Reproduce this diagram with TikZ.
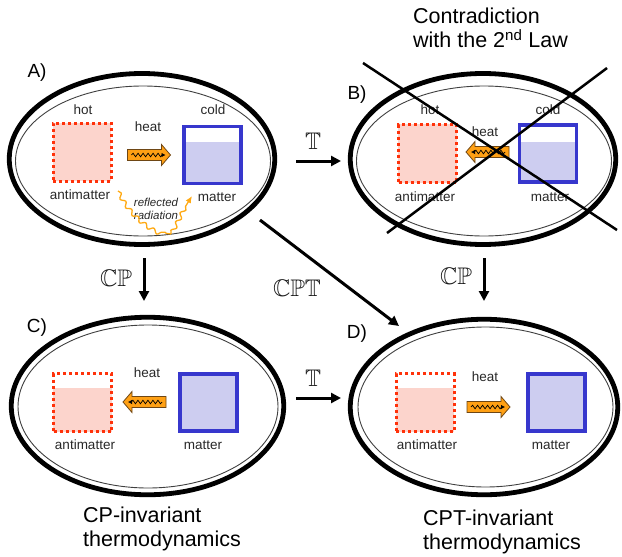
\documentclass[tikz,border=0pt]{standalone}
\usepackage{amssymb}
\usepackage{fontspec}
\setmainfont{Liberation Sans}
\usetikzlibrary{shapes.geometric,arrows.meta,decorations.pathmorphing}
\definecolor{amred}{RGB}{255,50,10}
\definecolor{amfill}{RGB}{252,212,204}
\definecolor{mblue}{RGB}{55,55,205}
\definecolor{mfill}{RGB}{205,205,240}
\definecolor{harrow}{RGB}{255,160,20}
\definecolor{hedge}{RGB}{110,70,20}
\definecolor{rad}{RGB}{255,170,20}
\definecolor{txt}{RGB}{40,40,40}
\begin{document}
\begin{tikzpicture}[x=1pt,y=-1pt,
 outerell/.style={ellipse, draw, line width=4.8pt, inner sep=0pt},
 innerell/.style={ellipse, draw=black!75, line width=0.9pt, inner sep=0pt},
 amsq/.style={draw=amred, line width=3pt, dash pattern=on 3pt off 3pt, minimum size=58pt, inner sep=0pt},
 msq/.style={draw=mblue, line width=3.5pt, minimum size=57pt, inner sep=0pt},
 lbl/.style={font=\fontsize{13.5}{16}\selectfont, text=txt, inner sep=0pt},
 big/.style={font=\fontsize{21.5}{24}\selectfont, align=left, anchor=west, inner sep=0pt},
 panel/.style={font=\fontsize{19}{22}\selectfont, inner sep=0pt},
 op/.style={font=\fontsize{24}{26}\selectfont, text=black!90, inner sep=0pt},
 flow/.style={line width=3pt, -{Triangle[length=10pt,width=10pt]}},
 radline/.style={draw=rad, line width=1.3pt, decorate, decoration={snake, amplitude=2pt, segment length=10pt}},
 heatarrow/.pic={
   \filldraw[fill=harrow, draw=hedge, line width=0.8pt] (-21,-5.5) -- (13,-5.5) -- (13,-10.5) -- (22,0) -- (13,10.5) -- (13,5.5) -- (-21,5.5) -- cycle;
   \draw[line width=0.7pt, decorate, decoration={snake, amplitude=1.8pt, segment length=5pt, post length=3pt}, -{Latex[length=4pt,width=4.5pt]}] (-17,0) -- (17,0);
 }
]
\useasboundingbox (0,0) rectangle (622,557);

% ---------------- ellipses
\node[outerell, minimum width=265.5pt, minimum height=171pt] (A) at (142,159) {};
\node[innerell, minimum width=255pt, minimum height=150pt] (Ai) at (143,161) {};
\node[outerell, minimum width=265.5pt, minimum height=171pt] (B) at (483,159) {};
\node[innerell, minimum width=255pt, minimum height=150pt] (Bi) at (484,161) {};
\node[outerell, minimum width=272.5pt, minimum height=177.5pt] (C) at (147.5,406) {};
\node[innerell, minimum width=260pt, minimum height=163pt] (Ci) at (148,406.5) {};
\node[outerell, minimum width=267.5pt, minimum height=175.5pt] (D) at (484,407) {};
\node[innerell, minimum width=255pt, minimum height=160pt] (Di) at (485.5,407) {};

% ---------------- panel letters
\node[panel] (lA) at (37,73) {A)};
\node[panel] (lB) at (357,95) {B)};
\node[panel] (lC) at (37,328) {C)};
\node[panel] (lD) at (357,334) {D)};

% ---------------- fills
\fill[amfill] (53,123) rectangle (111,181);
\fill[mfill] (184,142) rectangle (241,184);
\fill[amfill] (398,124) rectangle (457,183);
\fill[mfill] (519,142) rectangle (577,183);
\fill[amfill] (53,388) rectangle (112,432);
\fill[mfill] (179,373) rectangle (238,432);
\fill[amfill] (396,388) rectangle (454,432);
\fill[mfill] (527,373) rectangle (586,432);

% ---------------- squares
\node[amsq] (amA) at (82,152) {};
\node[msq] (mA) at (212.5,155) {};
\node[amsq] (amB) at (427.5,153.5) {};
\node[msq] (mB) at (548,153.5) {};
\node[amsq] (amC) at (82.5,402.5) {};
\node[msq] (mC) at (208.5,402.5) {};
\node[amsq] (amD) at (425,402.5) {};
\node[msq] (mD) at (556.5,402.5) {};

% ---------------- heat arrows
\pic at (148.5,155) {heatarrow};
\pic[xscale=-1] at (488,152) {heatarrow};
\pic[xscale=-1] at (145,402) {heatarrow};
\pic at (488,407) {heatarrow};

% ---------------- labels A
\node[lbl] (hotA) at (83,110) {hot};
\node[lbl] (coldA) at (213,110) {cold};
\node[lbl] (heatA) at (148,127) {heat};
\node[lbl] (antiA) at (80,195) {antimatter};
\node[lbl] (matA) at (217,197) {matter};
% labels B
\node[lbl] (hotB) at (430,110) {hot};
\node[lbl] (coldB) at (548,110) {cold};
\node[lbl] (heatB) at (485,132) {heat};
\node[lbl] (antiB) at (425,197) {antimatter};
\node[lbl] (matB) at (550,197) {matter};
% labels C
\node[lbl] (heatC) at (147,373) {heat};
\node[lbl] (antiC) at (85,445) {antimatter};
\node[lbl] (matC) at (203,445) {matter};
% labels D
\node[lbl] (heatD) at (485,377) {heat};
\node[lbl] (antiD) at (427,445) {antimatter};
\node[lbl] (matD) at (551,445) {matter};

% ---------------- reflected radiation
\node[font=\fontsize{11.5}{12.5}\selectfont\itshape, text=txt, align=center, inner sep=0pt] (refl) at (156,209) {reflected\\radiation};
\coordinate (r0) at (118,191);
\coordinate (r1) at (171,234);
\coordinate (r2) at (187,204);
\coordinate (r3) at (192,196);
\draw[radline] (r0) .. controls (128,212) and (150,232) .. (r1);
\draw[radline] (r1) .. controls (177,224) and (182,212) .. (r2);
\draw[draw=rad, line width=1.3pt, -{Latex[length=7pt,width=6pt]}] (r2) -- (r3);

% ---------------- transformation arrows
\coordinate (ab1) at (296,161);
\coordinate (ab2) at (341,161);
\coordinate (ac1) at (144,258);
\coordinate (ac2) at (144,301);
\coordinate (bd1) at (484,258);
\coordinate (bd2) at (484,301);
\coordinate (cd1) at (296,398);
\coordinate (cd2) at (341,398);
\coordinate (ad1) at (260,220);
\coordinate (ad2) at (399,326);
\draw[flow] (ab1) -- (ab2);
\draw[flow] (ac1) -- (ac2);
\draw[flow] (bd1) -- (bd2);
\draw[flow] (cd1) -- (cd2);
\draw[flow] (ad1) -- (ad2);
\node[op] (tAB) at (313,141) {$\mathbb{T}$};
\node[op] (cpAC) at (116,278) {$\mathbb{CP}$};
\node[op] (cpBD) at (456,276) {$\mathbb{CP}$};
\node[op] (tCD) at (313,378) {$\mathbb{T}$};
\node[op] (cptAD) at (297,288) {$\mathbb{CPT}$};

% ---------------- captions
\node[big] (contra) at (413,28) {Contradiction\\with the 2\textsuperscript{nd} Law};
\node[big] (cpinv) at (83,529) {CP-invariant\\thermodynamics};
\node[big] (cptinv) at (423,532) {CPT-invariant\\thermodynamics};

% ---------------- cross over B
\coordinate (x1) at (363,63);
\coordinate (x2) at (617,230);
\coordinate (x3) at (607,68);
\coordinate (x4) at (387,233);
\draw[line width=2.5pt] (x1) -- (x2);
\draw[line width=2.5pt] (x3) -- (x4);
\end{tikzpicture}
\end{document}
